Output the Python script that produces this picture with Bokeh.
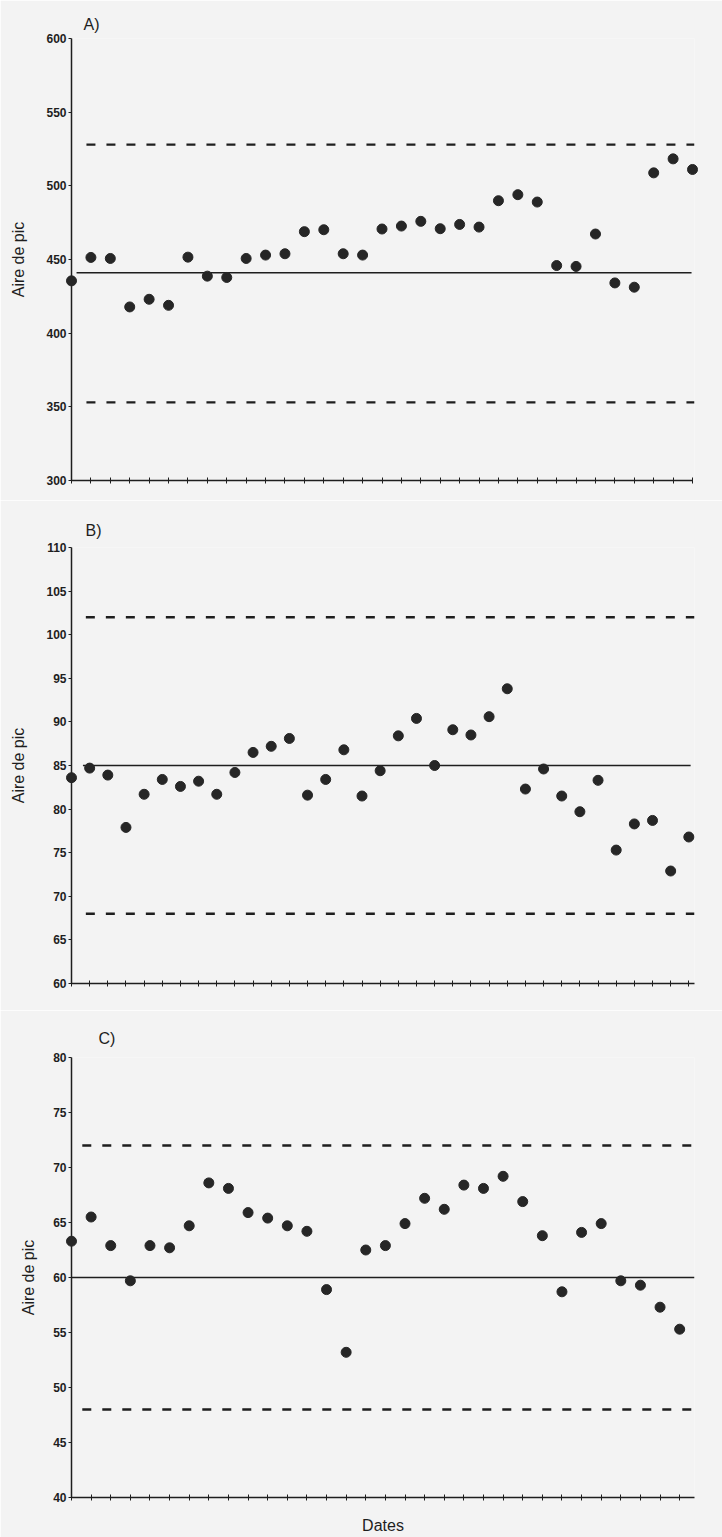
from bokeh.plotting import figure
from bokeh.models import Range1d, FixedTicker
from bokeh.layouts import column
from bokeh.embed import file_html
from bokeh.resources import INLINE

# ---------------- data ----------------
panel_letters = ["A)", "B)", "C)"]
y_title = "Aire de pic"
x_title = "Dates"

a_values = [435.5, 451.4, 450.7, 417.8, 423.0, 418.9, 451.6, 438.7, 437.8, 450.7,
            453.0, 453.9, 468.9, 470.2, 453.9, 453.0, 470.7, 472.7, 475.9, 470.9,
            473.8, 472.0, 489.9, 494.0, 489.0, 445.9, 445.3, 467.3, 434.1, 431.2,
            508.8, 518.3, 511.1]
a_mean, a_ucl, a_lcl = 441, 528, 353
a_yticks = [300, 350, 400, 450, 500, 550, 600]

b_values = [83.6, 84.7, 83.9, 77.9, 81.7, 83.4, 82.6, 83.2, 81.7, 84.2,
            86.5, 87.2, 88.1, 81.6, 83.4, 86.8, 81.5, 84.4, 88.4, 90.4,
            85.0, 89.1, 88.5, 90.6, 93.8, 82.3, 84.6, 81.5, 79.7, 83.3,
            75.3, 78.3, 78.7, 72.9, 76.8]
b_mean, b_ucl, b_lcl = 85, 102, 68
b_yticks = [60, 65, 70, 75, 80, 85, 90, 95, 100, 105, 110]

c_values = [63.3, 65.5, 62.9, 59.7, 62.9, 62.7, 64.7, 68.6, 68.1, 65.9,
            65.4, 64.7, 64.2, 58.9, 53.2, 62.5, 62.9, 64.9, 67.2, 66.2,
            68.4, 68.1, 69.2, 66.9, 63.8, 58.7, 64.1, 64.9, 59.7, 59.3,
            57.3, 55.3]
c_mean, c_ucl, c_lcl = 60, 72, 48
c_yticks = [40, 45, 50, 55, 60, 65, 70, 75, 80]

# ---------------- style ----------------
BG = "#f3f3f3"
INK = "#1e1e1e"
FONT = "Liberation Sans"
W = 722


def make_panel(values, mean, ucl, lcl, yticks, letter, height, top, bottom, left,
               right, spacing, axis_end, n_ticks, mean_start, mean_end, lim_start,
               title_offset, title_standoff, ylabel_standoff, xlabel=None,
               xlabel_standoff=0):
    frame_w = W - left - right
    x_end = 1 + frame_w / spacing
    idx = list(range(1, len(values) + 1))
    p = figure(width=W, height=height, x_range=Range1d(1, x_end),
               y_range=Range1d(yticks[0], yticks[-1]),
               output_backend="svg", toolbar_location=None,
               min_border_left=left, min_border_right=right,
               min_border_top=top, min_border_bottom=bottom)
    p.background_fill_color = BG
    p.border_fill_color = BG
    p.outline_line_color = None
    p.xgrid.visible = False
    p.ygrid.visible = False

    # panel letter as title
    p.title.text = letter
    p.title.align = "left"
    p.title.offset = title_offset
    p.title.standoff = title_standoff
    p.title.text_font = FONT
    p.title.text_font_style = "normal"
    p.title.text_font_size = "16px"
    p.title.text_color = INK

    # y axis
    ya = p.yaxis[0]
    ya.ticker = FixedTicker(ticks=yticks)
    ya.minor_tick_line_color = None
    ya.major_tick_in = 0
    ya.major_tick_out = 3
    ya.major_label_standoff = 2
    ya.axis_line_color = INK
    ya.axis_line_width = 1.5
    ya.major_tick_line_color = INK
    ya.major_label_text_font = FONT
    ya.major_label_text_font_style = "bold"
    ya.major_label_text_font_size = "12px"
    ya.major_label_text_color = INK
    ya.axis_label = y_title
    ya.axis_label_text_font = FONT
    ya.axis_label_text_font_style = "normal"
    ya.axis_label_text_font_size = "16px"
    ya.axis_label_text_color = INK
    ya.axis_label_standoff = ylabel_standoff

    # x axis
    xa = p.xaxis[0]
    xa.ticker = FixedTicker(ticks=list(range(1, n_ticks + 1)))
    xa.minor_tick_line_color = None
    xa.major_tick_in = 3
    xa.major_tick_out = 3
    xa.axis_line_color = INK
    xa.axis_line_width = 1.5
    xa.major_tick_line_color = INK
    xa.major_label_text_font_size = "1px"
    xa.major_label_text_color = None
    xa.major_label_standoff = 0
    xa.bounds = (1, min(axis_end, x_end))
    if xlabel:
        xa.axis_label = xlabel
        xa.axis_label_text_font = FONT
        xa.axis_label_text_font_style = "normal"
        xa.axis_label_text_font_size = "16px"
        xa.axis_label_text_color = INK
        xa.axis_label_standoff = xlabel_standoff

    # control lines
    me = min(mean_end, x_end)
    p.segment(x0=[mean_start], x1=[me], y0=[mean], y1=[mean],
              line_color=INK, line_width=1.6)
    p.segment(x0=[lim_start, lim_start], x1=[x_end, x_end],
              y0=[ucl, lcl], y1=[ucl, lcl],
              line_color=INK, line_width=2.3, line_dash="9 11")

    r = p.scatter(x=idx, y=values, size=10, fill_color="#262626",
                  line_color="#262626")
    r.level = "overlay"
    return p


pA = make_panel(a_values, a_mean, a_ucl, a_lcl, a_yticks, panel_letters[0],
                height=500, top=38, bottom=20, left=68, right=28, spacing=19.5,
                axis_end=33, n_ticks=33, mean_start=1.26, mean_end=32.95,
                lim_start=1.77, title_offset=12, title_standoff=12,
                ylabel_standoff=16)

pB = make_panel(b_values, b_mean, b_ucl, b_lcl, b_yticks, panel_letters[1],
                height=510, top=47, bottom=27, left=68, right=0, spacing=19.06,
                axis_end=99, n_ticks=35, mean_start=1.63, mean_end=35.1,
                lim_start=1.79, title_offset=14, title_standoff=18,
                ylabel_standoff=16)

pC = make_panel(c_values, c_mean, c_ucl, c_lcl, c_yticks, panel_letters[2],
                height=527, top=47, bottom=40, left=71, right=0, spacing=20.5,
                axis_end=99, n_ticks=32, mean_start=1.0, mean_end=99,
                lim_start=1.55, title_offset=27, title_standoff=21,
                ylabel_standoff=13, xlabel=x_title, xlabel_standoff=16)

layout = column(pA, pB, pC, spacing=0)
open("out.html", "w").write(file_html(layout, INLINE))
